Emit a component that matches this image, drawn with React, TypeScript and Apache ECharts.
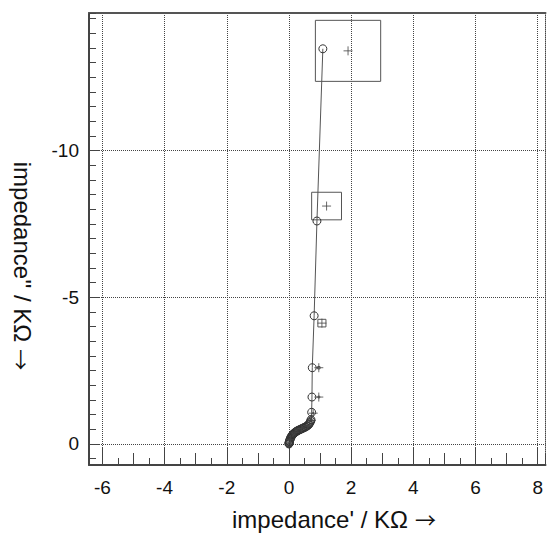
import React, { useEffect, useRef } from "react";
import * as echarts from "echarts";

// measured impedance (circles), KΩ
const measX = [0.0, 0.002, 0.005, 0.009, 0.014, 0.02, 0.028, 0.037, 0.048, 0.06, 0.075, 0.092, 0.11, 0.13, 0.15, 0.17, 0.19, 0.215, 0.24, 0.265, 0.29, 0.32, 0.35, 0.38, 0.41, 0.44, 0.47, 0.5, 0.53, 0.56, 0.59, 0.62, 0.64, 0.66, 0.68, 0.7, 0.71, 0.73, 0.74, 0.75, 0.81, 0.9, 1.09];
const measY = [0.0, -0.02, -0.04, -0.06, -0.08, -0.1, -0.13, -0.16, -0.19, -0.22, -0.25, -0.28, -0.31, -0.33, -0.35, -0.37, -0.39, -0.41, -0.43, -0.445, -0.46, -0.475, -0.49, -0.505, -0.52, -0.535, -0.55, -0.565, -0.58, -0.6, -0.62, -0.645, -0.67, -0.7, -0.74, -0.78, -0.83, -1.08, -1.6, -2.6, -4.37, -7.6, -13.47];

// fitted / second data set (crosses) with uncertainty half-widths
const fitX = [0.05, 0.2, 0.4, 0.6, 0.72, 0.78, 0.96, 0.96, 1.06, 1.21, 1.9];
const fitY = [-0.15, -0.4, -0.52, -0.62, -0.8, -1.05, -1.6, -2.6, -4.12, -8.11, -13.4];
const fitErrX = [0.01, 0.01, 0.01, 0.01, 0.02, 0.02, 0.03, 0.04, 0.13, 0.48, 1.05];
const fitErrY = [0.01, 0.01, 0.01, 0.01, 0.02, 0.02, 0.03, 0.04, 0.13, 0.47, 1.04];

const X_MIN = -6.43;
const X_MAX = 8.25;
const Y_MIN = -14.69;
const Y_MAX = 0.716;

const xTitle = "impedance' / KΩ";
const yTitle = "impedance'' / KΩ";
const arrow = "→";

const FONT = "'Liberation Sans', Arial, Helvetica, sans-serif";
const AX = "#444";

export default function App() {
  const ref = useRef<HTMLDivElement>(null);

  useEffect(() => {
    if (!ref.current) return;
    const chart = echarts.init(ref.current, undefined, { renderer: "svg" });

    const measData = measX.map((x, i) => [x, measY[i]]);
    const fitData = fitX.map((x, i) => [x, fitY[i]]);
    const boxData = fitX.map((x, i) => [x, fitY[i], fitErrX[i], fitErrY[i]]);

    const baseX = {
      type: "value",
      min: X_MIN,
      max: X_MAX,
      gridIndex: 0,
      position: "bottom",
      axisLine: { show: false, onZero: false },
      axisTick: { show: false },
      axisLabel: { show: false },
      splitLine: { show: false },
    };
    const baseY = {
      type: "value",
      min: Y_MIN,
      max: Y_MAX,
      inverse: true,
      gridIndex: 0,
      position: "left",
      axisLine: { show: false, onZero: false },
      axisTick: { show: false },
      axisLabel: { show: false },
      splitLine: { show: false },
    };

    const titleRich = {
      t: { fontSize: 24, fontFamily: FONT, fill: "#111", color: "#111", lineHeight: 24 },
      a: { fontSize: 21, fontFamily: "'Noto Sans CJK SC', 'DejaVu Sans'", fill: "#111", color: "#111", lineHeight: 24, padding: [0, 0, 0, 7] },
    };

    chart.setOption({
      animation: false,
      backgroundColor: "#ffffff",
      grid: {
        left: 89,
        right: 1.5,
        top: 13,
        bottom: 68,
        show: true,
        borderColor: "#999",
        borderWidth: 1,
      },
      xAxis: [
        {
          ...baseX,
          minInterval: 2,
          maxInterval: 2,
          axisLine: { show: true, onZero: false, lineStyle: { color: AX, width: 2 } },
          axisTick: { show: true, inside: true, length: 18, lineStyle: { color: AX, width: 1 } },
          axisLabel: {
            show: true,
            showMinLabel: false,
            showMaxLabel: false,
            margin: 13,
            fontSize: 19,
            color: "#111",
            fontFamily: FONT,
          },
          splitLine: { show: true, lineStyle: { color: AX, width: 1, type: [1, 1] } },
        },
        {
          ...baseX,
          minInterval: 1,
          maxInterval: 1,
          axisTick: { show: true, inside: true, length: 12, lineStyle: { color: AX, width: 1 } },
        },
        {
          ...baseX,
          minInterval: 0.5,
          maxInterval: 0.5,
          axisTick: { show: true, inside: true, length: 7, lineStyle: { color: AX, width: 1 } },
        },
        {
          ...baseX,
          position: "top",
          axisLine: { show: true, onZero: false, lineStyle: { color: "#555", width: 2 } },
        },
      ],
      yAxis: [
        {
          ...baseY,
          minInterval: 5,
          maxInterval: 5,
          axisLine: { show: true, onZero: false, lineStyle: { color: AX, width: 2 } },
          axisTick: { show: true, inside: true, length: 10, lineStyle: { color: AX, width: 1 } },
          axisLabel: {
            show: true,
            showMinLabel: false,
            showMaxLabel: false,
            margin: 10,
            fontSize: 19,
            color: "#111",
            fontFamily: FONT,
          },
          splitLine: { show: true, lineStyle: { color: AX, width: 1, type: [1, 1] } },
        },
        {
          ...baseY,
          minInterval: 0.5,
          maxInterval: 0.5,
          axisTick: { show: true, inside: true, length: 7, lineStyle: { color: AX, width: 1 } },
        },
      ],
      graphic: [
        {
          type: "text",
          x: 334,
          y: 519,
          style: {
            text: `{t|${xTitle}}{a|${arrow}}`,
            rich: titleRich,
            fill: "#111",
            align: "center",
            verticalAlign: "middle",
          },
        },
        {
          type: "text",
          x: 22,
          y: 266,
          rotation: -Math.PI / 2,
          style: {
            text: `{t|${yTitle}}{a|${arrow}}`,
            rich: titleRich,
            fill: "#111",
            align: "center",
            verticalAlign: "middle",
          },
        },
      ],
      series: [
        {
          type: "custom",
          name: "uncertainty",
          xAxisIndex: 0,
          yAxisIndex: 0,
          data: boxData,
          z: 3,
          renderItem: (params: any, api: any) => {
            const cx = api.value(0);
            const cy = api.value(1);
            const hx = api.value(2);
            const hy = api.value(3);
            const p1 = api.coord([cx - hx, cy - hy]);
            const p2 = api.coord([cx + hx, cy + hy]);
            return {
              type: "rect",
              shape: {
                x: Math.min(p1[0], p2[0]),
                y: Math.min(p1[1], p2[1]),
                width: Math.abs(p2[0] - p1[0]),
                height: Math.abs(p2[1] - p1[1]),
              },
              style: { fill: "none", stroke: "#555", lineWidth: 1 },
            };
          },
        },
        {
          type: "line",
          name: "measured",
          xAxisIndex: 0,
          yAxisIndex: 0,
          data: measData,
          symbol: "circle",
          symbolSize: 8,
          showAllSymbol: true,
          lineStyle: { color: "#555", width: 1 },
          itemStyle: { color: "rgba(255,255,255,0)", borderColor: "#333", borderWidth: 1 },
          z: 5,
        },
        {
          type: "scatter",
          name: "fit",
          xAxisIndex: 0,
          yAxisIndex: 0,
          data: fitData,
          symbol: "path://M0,5 L10,5 M5,0 L5,10",
          symbolSize: 9,
          itemStyle: { color: "none", borderColor: "#444", borderWidth: 1 },
          z: 6,
        },
      ],
    });

    return () => chart.dispose();
  }, []);

  return (
    <div
      ref={ref}
      style={{ position: "fixed", left: 0, top: 0, width: 547, height: 533, background: "#fff" }}
    />
  );
}
